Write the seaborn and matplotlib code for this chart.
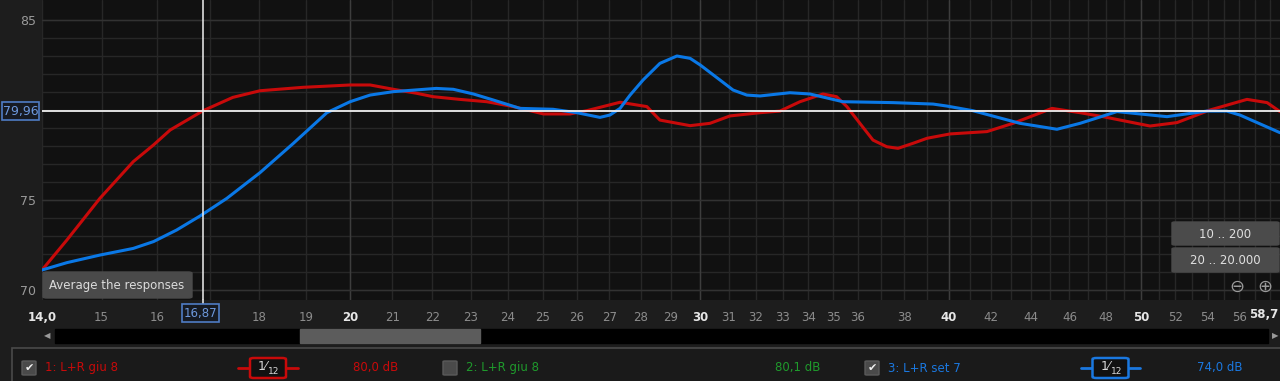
import numpy as np
import pandas as pd
import matplotlib
matplotlib.use("Agg")
import matplotlib.pyplot as plt
import seaborn as sns
from matplotlib.patches import FancyBboxPatch, Rectangle
from matplotlib.lines import Line2D
from matplotlib.ticker import FixedLocator, NullFormatter

# ---------------- data ----------------
red_freq = [14.0, 14.41, 14.97, 15.56, 15.93, 16.24, 16.87, 17.46, 18.02, 18.94,
            20.0, 20.47, 21.03, 21.60, 22.02, 22.71, 23.43, 24.16, 25.02, 25.80,
            26.30, 27.34, 28.20, 28.63, 29.65, 30.34, 31.05, 32.15, 32.90, 33.67,
            34.58, 35.13, 35.55, 36.09, 36.64, 37.23, 37.72, 38.38, 39.01, 40.06,
            41.81, 43.09, 45.08, 46.57, 47.82, 50.50, 52.10, 54.13, 56.50, 57.83,
            58.7]
red_spl = [71.11, 72.78, 75.09, 77.13, 78.06, 78.89, 79.96, 80.70, 81.07, 81.26,
           81.39, 81.39, 81.15, 80.93, 80.74, 80.59, 80.46, 80.19, 79.78, 79.78,
           79.96, 80.43, 80.19, 79.44, 79.13, 79.26, 79.67, 79.85, 79.94, 80.46,
           80.89, 80.74, 80.19, 79.26, 78.33, 77.96, 77.87, 78.15, 78.43, 78.67,
           78.80, 79.26, 80.09, 79.85, 79.63, 79.11, 79.30, 80.00, 80.59, 80.41,
           79.91]

blue_freq = [14.0, 14.41, 14.97, 15.56, 15.93, 16.36, 16.81, 17.34, 18.02, 18.73,
             19.47, 20.0, 20.47, 21.03, 22.10, 22.54, 23.07, 23.60, 24.35, 25.30,
             26.01, 26.71, 27.02, 27.34, 27.66, 28.08, 28.63, 29.20, 29.65, 30.0,
             30.69, 31.16, 31.66, 32.15, 33.28, 34.06, 35.39, 37.50, 39.28, 39.91,
             41.14, 43.44, 45.34, 46.57, 48.60, 51.50, 53.94, 55.19, 56.04, 58.7]
blue_spl = [71.11, 71.52, 71.94, 72.31, 72.69, 73.33, 74.11, 75.09, 76.52, 78.15,
            79.85, 80.46, 80.83, 81.02, 81.20, 81.15, 80.89, 80.56, 80.09, 80.04,
            79.85, 79.59, 79.72, 80.09, 80.83, 81.67, 82.59, 83.00, 82.87, 82.50,
            81.67, 81.11, 80.83, 80.78, 80.96, 80.89, 80.46, 80.41, 80.33, 80.22,
            79.96, 79.26, 78.93, 79.26, 79.91, 79.63, 79.94, 79.94, 79.72, 78.74]

series_names = ["1: L+R giu 8", "3: L+R set 7"]
series_colors = ["#c80a0a", "#0a78e6"]

x_tick_values = [14.0, 15, 16, 18, 19, 20, 21, 22, 23, 24, 25, 26, 27, 28, 29, 30, 31,
                 32, 33, 34, 35, 36, 38, 40, 42, 44, 46, 48, 50, 52, 54, 56]
x_tick_labels = ["14,0", "15", "16", "18", "19", "20", "21", "22", "23", "24", "25",
                 "26", "27", "28", "29", "30", "31", "32", "33", "34", "35", "36",
                 "38", "40", "42", "44", "46", "48", "50", "52", "54", "56"]
x_end_label = "58,7"
bold_x_labels = ["14,0", "20", "30", "40", "50"]
y_tick_values = [70, 75, 80, 85]
y_tick_labels = ["70", "75", "", "85"]

cursor_freq = 16.87
cursor_spl = 79.96
cursor_freq_label = "16,87"
cursor_spl_label = "79,96"

legend_entries = [
    # checkbox checked, name, color, smoothing shown, level text
    (True, "1: L+R giu 8", "#c80a0a", True, "80,0 dB"),
    (False, "2: L+R giu 8", "#1f9a2c", False, "80,1 dB"),
    (True, "3: L+R set 7", "#1a78e0", True, "74,0 dB"),
]
tooltip_text = "Average the responses"
button_labels = ["10 .. 200", "20 .. 20.000"]

# ---------------- build frame ----------------
df = pd.concat([
    pd.DataFrame({"freq": red_freq, "spl": red_spl, "series": series_names[0]}),
    pd.DataFrame({"freq": blue_freq, "spl": blue_spl, "series": series_names[1]}),
], ignore_index=True)

sns.set_theme(style="dark")
plt.rcParams["font.family"] = ["DejaVu Sans"]

W, H = 1280, 381
fig = plt.figure(figsize=(W / 100, H / 100), dpi=100, facecolor="#1d1d1d")


def fx(px):
    return px / W


def fy(py):
    return 1 - py / H


ax = fig.add_axes([fx(42), fy(300), fx(1238), 300 / H])
ax.set_facecolor("#111111")
for s in ax.spines.values():
    s.set_visible(False)

sns.lineplot(data=df, x="freq", y="spl", hue="series", palette=series_colors,
             linewidth=2.2, legend=False, ax=ax, zorder=3)

ax.set_xscale("log")
ax.set_xlim(14.0, 58.7)
ax.set_ylim(70 - 10 / 18, 85 + 20 / 18)
ax.set_xlabel("")
ax.set_ylabel("")

# grid
ax.xaxis.remove_overlapping_locs = False
ax.yaxis.remove_overlapping_locs = False
ax.xaxis.set_major_locator(FixedLocator(x_tick_values))
ax.set_xticklabels(x_tick_labels)
ax.xaxis.set_minor_locator(FixedLocator(list(range(14, 59))))
ax.xaxis.set_minor_formatter(NullFormatter())
ax.set_yticks(y_tick_values)
ax.set_yticklabels(y_tick_labels)
ax.yaxis.set_minor_locator(FixedLocator(list(range(70, 86))))
ax.grid(False, which="major")
ax.grid(True, which="minor", color="#272727", linewidth=1.0)
for v in [20, 30, 40, 50]:
    ax.axvline(v, color="#3d3d3d", linewidth=1.0, zorder=0.6)
for v in [70, 75, 85]:
    ax.axhline(v, color="#323232", linewidth=1.0, zorder=0.6)

ax.tick_params(axis="both", which="both", length=0)
ax.tick_params(axis="x", pad=8, labelsize=8.5, labelcolor="#8c8c8c")
ax.tick_params(axis="y", pad=4, labelsize=9, labelcolor="#9a9a9a")
for lbl in ax.get_xticklabels():
    if lbl.get_text() in bold_x_labels:
        lbl.set_color("#e6e6e6")
        lbl.set_fontweight("bold")

# cursor lines
ax.axhline(cursor_spl, color="#f0f0f0", linewidth=1.3, zorder=4)
ax.axvline(cursor_freq, color="#f0f0f0", linewidth=1.1, zorder=4)


def rbox(x0, y0, x1, y1, face, edge=None, lw=1.0, r=3, z=5):
    p = FancyBboxPatch((fx(x0), fy(y1)), fx(x1 - x0), (y1 - y0) / H,
                       boxstyle=f"round,pad=0,rounding_size={r / W}",
                       transform=fig.transFigure, facecolor=face,
                       edgecolor=edge if edge else face, linewidth=lw, zorder=z)
    fig.add_artist(p)


def rect(x0, y0, x1, y1, face, edge=None, lw=1.0, z=5):
    p = Rectangle((fx(x0), fy(y1)), fx(x1 - x0), (y1 - y0) / H,
                  transform=fig.transFigure, facecolor=face,
                  edgecolor=edge if edge else face, linewidth=lw, zorder=z)
    fig.add_artist(p)


def txt(x, y, s, color, size=8.5, ha="left", weight="normal", z=6):
    fig.text(fx(x), fy(y), s, color=color, fontsize=size, ha=ha, va="center",
             fontweight=weight, zorder=z)


# end-of-axis frequency label
txt(1278, 315, x_end_label, "#e6e6e6", size=8.5, ha="right", weight="bold")

# cursor value boxes
rect(2, 102, 39, 120, "#161a22", edge="#4f7cc4", lw=1.2)
txt(20.5, 111, cursor_spl_label, "#6d98dc", size=9, ha="center")
fig.add_artist(Line2D([fx(202.5), fx(202.5)], [fy(300), fy(304)], color="#f0f0f0",
                      linewidth=1.1, transform=fig.transFigure, zorder=5))
rect(182, 304, 219, 322, "#161a22", edge="#4f7cc4", lw=1.2)
txt(200.5, 313, cursor_freq_label, "#6d98dc", size=8.5, ha="center")

# tooltip
rbox(43, 272, 192, 298, "#4a4a4a", r=4)
txt(49, 286, tooltip_text, "#dcdcdc", size=8.5)

# range buttons
rbox(1172, 222, 1279, 245, "#4b4b4b", r=3)
txt(1225, 234, button_labels[0], "#e0e0e0", size=8.5, ha="center")
rbox(1172, 248, 1279, 272, "#4b4b4b", r=3)
txt(1225, 260, button_labels[1], "#e0e0e0", size=8.5, ha="center")
txt(1237, 287, "\u2296", "#9a9a9a", size=13, ha="center")
txt(1265, 287, "\u2295", "#9a9a9a", size=13, ha="center")

# scrollbar
rect(55, 329, 1268, 343, "#000000")
rect(300, 329, 480, 343, "#5c5c5c")
txt(47, 336, "\u25C0", "#9a9a9a", size=6, ha="center")
txt(1275, 336, "\u25B6", "#9a9a9a", size=6, ha="center")

# legend panel
rect(12, 348, 1282, 384, "#1a1a1a", edge="#4a4a4a", lw=1.2, z=4)
check_x = [22, 443, 865]
name_x = [45, 466, 888]
smooth_x = [(238, 298), None, (1081, 1140)]
level_x = [353, 775, 1197]
yc = 368
for i, (checked, name, col, has_smooth, level) in enumerate(legend_entries):
    cx = check_x[i]
    rbox(cx, yc - 7, cx + 14, yc + 7, "#4a4a4a", edge="#5a5a5a", r=2)
    if checked:
        txt(cx + 7, yc, "\u2714", "#f0f0f0", size=8, ha="center")
    txt(name_x[i], yc, name, col, size=8.5)
    if smooth_x[i] is not None:
        a, b = smooth_x[i]
        fig.add_artist(Line2D([fx(a), fx(b)], [fy(yc), fy(yc)], color=col,
                              linewidth=2, transform=fig.transFigure, zorder=5))
        m = (a + b) / 2
        rbox(m - 18, yc - 10, m + 18, yc + 10, "#111111", edge=col, lw=1.8, r=4, z=6)
        txt(m - 5, yc - 1, "1\u2044", "#d8d8d8", size=9, ha="center", z=7)
        txt(m + 6, yc + 3, "12", "#d8d8d8", size=6.5, ha="center", z=7)
    txt(level_x[i], yc, level, col, size=8.5)

fig.savefig("out.png", dpi=100, facecolor=fig.get_facecolor())
